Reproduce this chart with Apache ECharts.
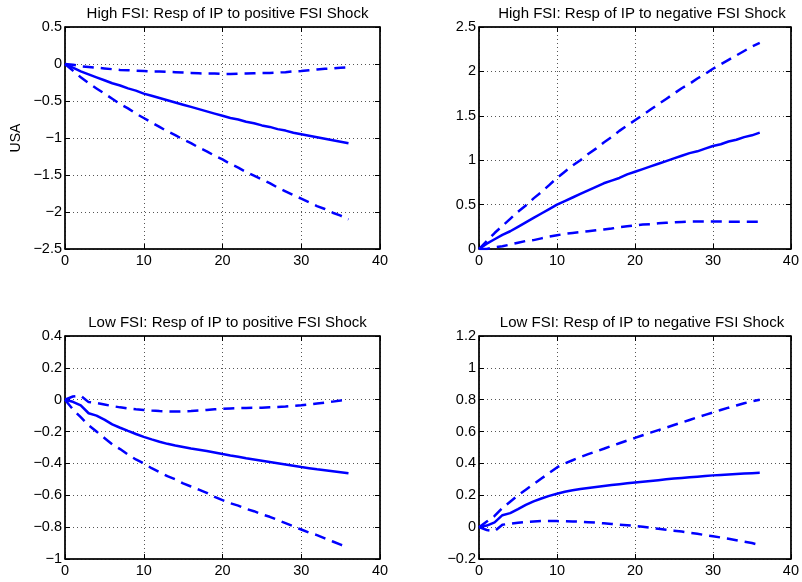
<!DOCTYPE html>
<html><head><meta charset="utf-8">
<script src="https://cdn.jsdelivr.net/npm/echarts@6/dist/echarts.min.js"></script>
<style>html,body{margin:0;padding:0;background:#fff}#c{width:802px;height:582px}</style>
</head><body><div id="c"></div>
<script>
const horizon = [0,1,2,3,4,5,6,7,8,9,10,11,12,13,14,15,16,17,18,19,20,21,22,23,24,25,26,27,28,29,30,31,32,33,34,35,36];

const titles = [
  "High FSI: Resp of IP to positive FSI Shock",
  "High FSI: Resp of IP to negative FSI Shock",
  "Low FSI: Resp of IP to positive FSI Shock",
  "Low FSI: Resp of IP to negative FSI Shock"
];
const yLabelTopLeft = "USA";
const xTicks = [0,10,20,30,40];
const yRanges = [[-2.5,0.5,0.5],[0,2.5,0.5],[-1,0.4,0.2],[-0.2,1.2,0.2]];

// Panel 1: High FSI, positive shock
const p1Mid = [0,-0.05,-0.10,-0.14,-0.18,-0.22,-0.26,-0.29,-0.33,-0.36,-0.40,-0.43,-0.46,-0.49,-0.52,-0.55,-0.58,-0.61,-0.64,-0.67,-0.70,-0.73,-0.75,-0.78,-0.80,-0.83,-0.85,-0.88,-0.90,-0.93,-0.95,-0.97,-0.99,-1.01,-1.03,-1.05,-1.07];
const p1Up = [0,-0.01,-0.03,-0.04,-0.05,-0.06,-0.07,-0.08,-0.085,-0.09,-0.095,-0.10,-0.10,-0.105,-0.11,-0.115,-0.12,-0.125,-0.13,-0.13,-0.135,-0.135,-0.13,-0.13,-0.125,-0.12,-0.12,-0.115,-0.11,-0.10,-0.095,-0.085,-0.075,-0.065,-0.06,-0.05,-0.045];
const p1Lo = [0,-0.09,-0.18,-0.26,-0.33,-0.40,-0.47,-0.54,-0.60,-0.67,-0.73,-0.79,-0.85,-0.91,-0.96,-1.02,-1.07,-1.13,-1.18,-1.24,-1.29,-1.35,-1.40,-1.46,-1.51,-1.56,-1.61,-1.67,-1.72,-1.77,-1.82,-1.87,-1.92,-1.96,-2.01,-2.05,-2.10];

// Panel 2: High FSI, negative shock
const p2Mid = [0,0.06,0.11,0.16,0.20,0.25,0.30,0.35,0.40,0.45,0.50,0.54,0.58,0.62,0.66,0.70,0.74,0.77,0.80,0.84,0.87,0.90,0.93,0.96,0.99,1.02,1.05,1.08,1.10,1.13,1.16,1.18,1.21,1.23,1.26,1.28,1.31];
const p2Up = [0,0.09,0.18,0.26,0.34,0.42,0.49,0.57,0.64,0.72,0.80,0.87,0.94,1.00,1.07,1.13,1.20,1.26,1.33,1.39,1.45,1.51,1.57,1.63,1.69,1.75,1.81,1.86,1.92,1.97,2.03,2.08,2.13,2.18,2.23,2.28,2.32];
const p2Lo = [0,0.0,0.02,0.03,0.05,0.07,0.09,0.10,0.12,0.14,0.155,0.17,0.18,0.19,0.20,0.21,0.22,0.23,0.245,0.255,0.265,0.275,0.28,0.29,0.295,0.30,0.305,0.31,0.31,0.31,0.31,0.31,0.308,0.307,0.307,0.307,0.307];

// Panel 3: Low FSI, positive shock
const p3Mid = [0,-0.013,-0.035,-0.085,-0.10,-0.125,-0.155,-0.176,-0.196,-0.215,-0.233,-0.249,-0.264,-0.277,-0.288,-0.297,-0.306,-0.314,-0.322,-0.331,-0.341,-0.35,-0.358,-0.367,-0.375,-0.383,-0.391,-0.399,-0.407,-0.415,-0.423,-0.43,-0.437,-0.443,-0.449,-0.455,-0.462];
const p3Up = [0,0.02,0.025,-0.015,-0.02,-0.03,-0.04,-0.048,-0.055,-0.06,-0.064,-0.068,-0.071,-0.073,-0.074,-0.073,-0.071,-0.068,-0.064,-0.06,-0.057,-0.055,-0.053,-0.052,-0.051,-0.05,-0.048,-0.046,-0.043,-0.039,-0.035,-0.03,-0.024,-0.018,-0.012,-0.005,0.004];
const p3Lo = [0,-0.06,-0.11,-0.16,-0.20,-0.24,-0.28,-0.31,-0.345,-0.375,-0.40,-0.43,-0.455,-0.48,-0.50,-0.525,-0.545,-0.565,-0.585,-0.61,-0.63,-0.65,-0.665,-0.685,-0.70,-0.72,-0.735,-0.755,-0.775,-0.795,-0.815,-0.835,-0.85,-0.87,-0.89,-0.91,-0.93];

// Panel 4: Low FSI, negative shock
const p4Mid = [0,0.01,0.03,0.075,0.088,0.113,0.14,0.162,0.18,0.196,0.21,0.222,0.232,0.24,0.246,0.252,0.258,0.264,0.27,0.275,0.28,0.285,0.29,0.295,0.3,0.305,0.309,0.313,0.317,0.321,0.325,0.328,0.331,0.334,0.337,0.339,0.341];
const p4Up = [0,0.035,0.07,0.12,0.16,0.2,0.235,0.27,0.305,0.34,0.375,0.4,0.42,0.44,0.458,0.475,0.492,0.51,0.527,0.544,0.56,0.577,0.593,0.609,0.625,0.641,0.657,0.673,0.689,0.705,0.72,0.735,0.75,0.764,0.778,0.79,0.80];
const p4Lo = [0,-0.018,-0.025,0.015,0.022,0.028,0.033,0.036,0.038,0.038,0.038,0.037,0.036,0.034,0.031,0.028,0.024,0.02,0.016,0.012,0.007,0.002,-0.004,-0.01,-0.016,-0.022,-0.028,-0.035,-0.042,-0.05,-0.057,-0.065,-0.073,-0.082,-0.091,-0.1,-0.112];

const panels = [[p1Mid,p1Up,p1Lo],[p2Mid,p2Up,p2Lo],[p3Mid,p3Up,p3Lo],[p4Mid,p4Up,p4Lo]];
const boxes = [
  {left:65, top:27, width:315, height:222},
  {left:479, top:27, width:316, height:222},
  {left:65, top:336, width:315, height:223},
  {left:479, top:336, width:316, height:223}
];

const FONT = 'Liberation Sans, Arial, Helvetica, sans-serif';
const fmt = v => { const s = String(Math.round(v*1000)/1000); return s.replace('-', '\u2212'); };

const grid = [], xAxis = [], yAxis = [], series = [], title = [];
boxes.forEach((b, i) => {
  grid.push(Object.assign({show:true, borderColor:'#000', borderWidth:1, backgroundColor:'#fff'}, b));
  title.push({text: titles[i], left: b.left + b.width/2, top: b.top - 26, textAlign:'center',
    textStyle:{fontFamily:FONT, fontSize:15, fontWeight:'normal', color:'#000'}});
  const [ymin, ymax, yint] = yRanges[i];
  const tick = {show:true, inside:true, length:5, lineStyle:{color:'#000', width:1}};
  xAxis.push({type:'value', gridIndex:i, min:0, max:40, interval:10, position:'bottom',
    axisLine:{show:true, onZero:false, lineStyle:{color:'#000', width:1.5}}, axisTick:tick,
    axisLabel:{fontFamily:FONT, fontSize:14.5, color:'#000', margin:4, formatter:fmt},
    splitLine:{show:true, lineStyle:{type:[1,3], color:'#555', width:1}}});
  xAxis.push({type:'value', gridIndex:i, min:0, max:40, interval:10, position:'top',
    axisLine:{show:true, onZero:false, lineStyle:{color:'#000', width:1.5}}, axisTick:tick,
    axisLabel:{show:false}, splitLine:{show:false}});
  const ya = {type:'value', gridIndex:i, min:ymin, max:ymax, interval:yint, position:'left',
    axisLine:{show:true, onZero:false, lineStyle:{color:'#000', width:1.5}}, axisTick:tick,
    axisLabel:{fontFamily:FONT, fontSize:14.5, color:'#000', margin:3, formatter:fmt},
    splitLine:{show:true, lineStyle:{type:[1,3], color:'#555', width:1}}};
  if (i === 0) {
    ya.name = yLabelTopLeft; ya.nameLocation = 'middle'; ya.nameRotate = 90; ya.nameGap = 42;
    ya.nameTextStyle = {fontFamily:FONT, fontSize:14, color:'#000'};
  }
  yAxis.push(ya);
  yAxis.push({type:'value', gridIndex:i, min:ymin, max:ymax, interval:yint, position:'right',
    axisLine:{show:true, onZero:false, lineStyle:{color:'#000', width:1.5}}, axisTick:tick,
    axisLabel:{show:false}, splitLine:{show:false}});
  const styles = [{type:'solid'}, {type:[11,7]}, {type:[11,7]}];
  panels[i].forEach((arr, k) => {
    series.push({type:'line', xAxisIndex:2*i, yAxisIndex:2*i, showSymbol:false, symbol:'none',
      data: horizon.map((h, j) => [h, arr[j]]), animation:false, silent:true,
      lineStyle:{color:'#0000ff', width:2.5, type:styles[k].type}});
  });
});

const chart = echarts.init(document.getElementById('c'), null, {renderer:'canvas'});
chart.setOption({animation:false, backgroundColor:'#fff', title, grid, xAxis, yAxis, series});
</script></body></html>
